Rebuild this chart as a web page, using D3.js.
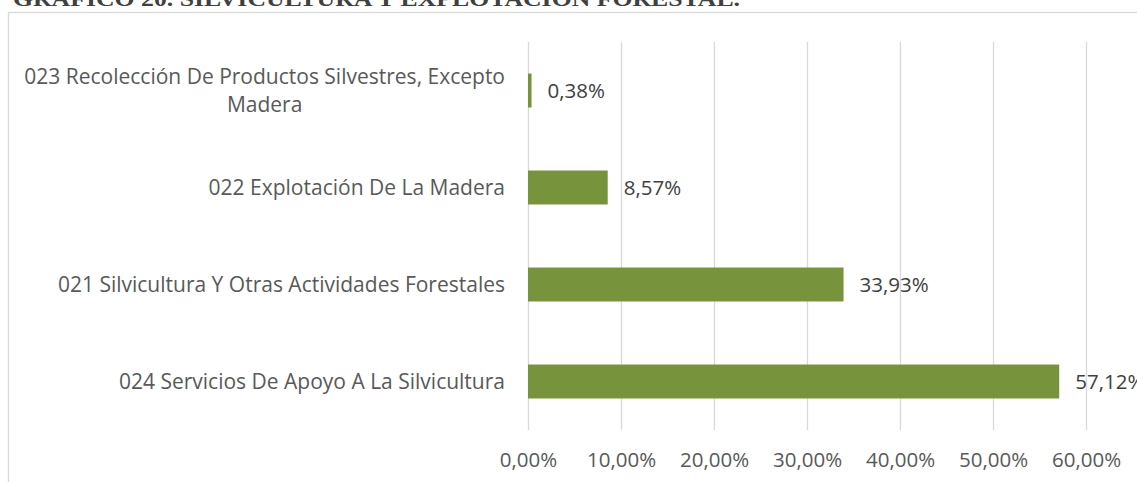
<!DOCTYPE html>
<html>
<head>
<meta charset="utf-8">
<script src="https://d3js.org/d3.v7.min.js"></script>
<style>
  body { margin: 0; background: #fff; }
  svg text { font-family: "Open Sans", sans-serif; }
</style>
</head>
<body>
<div id="chart"></div>
<script>
// categories, top to bottom as in the chart
var categories = [
  ["023 Recolección De Productos Silvestres, Excepto", "Madera"],
  ["022 Explotación De La Madera"],
  ["021 Silvicultura Y Otras Actividades Forestales"],
  ["024 Servicios De Apoyo A La Silvicultura"]
];
var values = [0.38, 8.57, 33.93, 57.12];
var ticks = [0, 10, 20, 30, 40, 50, 60];
var title = "GRÁFICO 20. SILVICULTURA Y EXPLOTACIÓN FORESTAL.";

var width = 1137, height = 482,
    fontSize = "20.5px",
    catFontSize = "21px";

var svg = d3.select("#chart").append("svg")
    .attr("width", width)
    .attr("height", height);

// title, cut off by the top of the picture
svg.append("text")
    .attr("x", 13)
    .attr("y", 6)
    .attr("textLength", 727)
    .attr("lengthAdjust", "spacingAndGlyphs")
    .attr("fill", "#404040")
    .style("font-family", "'Liberation Serif', serif")
    .style("font-weight", "bold")
    .style("font-size", "22px")
    .text(title);

// chart frame
svg.append("rect")
    .attr("x", 8.5)
    .attr("y", 12.5)
    .attr("width", 1300)
    .attr("height", 600)
    .attr("fill", "none")
    .attr("stroke", "#d9d9d9")
    .attr("stroke-width", 1.3);

var x = d3.scaleLinear()
    .domain([0, 60])
    .range([528, 1086]);

var y = d3.scaleBand()
    .domain(d3.range(categories.length))
    .range([42, 430])
    .paddingInner(0.65)
    .paddingOuter(0.325);

// vertical gridlines
svg.append("g")
    .selectAll("line")
    .data(ticks)
    .join("line")
    .attr("x1", d => Math.round(x(d)) + 0.5)
    .attr("x2", d => Math.round(x(d)) + 0.5)
    .attr("y1", 42)
    .attr("y2", 430)
    .attr("stroke", "#d9d9d9")
    .attr("stroke-width", 1.3);

// x axis labels
var fmt = d => d3.format(".2f")(d).replace(".", ",") + "%";
var xAxis = d3.axisBottom(x)
    .tickValues(ticks)
    .tickFormat(fmt)
    .tickSize(0)
    .tickPadding(0);

var gx = svg.append("g")
    .attr("transform", "translate(0,452)")
    .call(xAxis);
gx.select(".domain").remove();
gx.selectAll("text")
    .attr("fill", "#595959")
    .style("font-family", "'Open Sans', sans-serif")
    .style("font-size", fontSize);

// bars
svg.append("g")
    .selectAll("rect")
    .data(values)
    .join("rect")
    .attr("x", x(0))
    .attr("y", (d, i) => y(i))
    .attr("width", d => x(d) - x(0))
    .attr("height", y.bandwidth())
    .attr("fill", "#77933c");

// value labels
svg.append("g")
    .selectAll("text")
    .data(values)
    .join("text")
    .attr("x", d => x(d) + 16)
    .attr("y", (d, i) => y(i) + y.bandwidth() / 2)
    .attr("dy", "0.35em")
    .attr("fill", "#404040")
    .style("font-size", fontSize)
    .text(d => d.toFixed(2).replace(".", ",") + "%");

// category labels, wrapped ones centred on their block
var lineH = 28;
categories.forEach(function(lines, i){
  var cy = y(i) + y.bandwidth() / 2;
  var t = svg.append("text")
      .attr("fill", "#595959")
      .style("font-size", catFontSize);
  var spans = t.selectAll("tspan")
      .data(lines)
      .join("tspan")
      .attr("y", (d, j) => cy + (j - (lines.length - 1) / 2) * lineH)
      .attr("dy", "0.35em")
      .text(d => d);
  if (lines.length == 1) {
    spans.attr("x", 505).attr("text-anchor", "end");
  } else {
    // measure the widest line so the block is right aligned at the axis
    var w = d3.max(spans.nodes(), n => n.getComputedTextLength());
    spans.attr("x", 505 - w / 2).attr("text-anchor", "middle");
  }
});
</script>
</body>
</html>
